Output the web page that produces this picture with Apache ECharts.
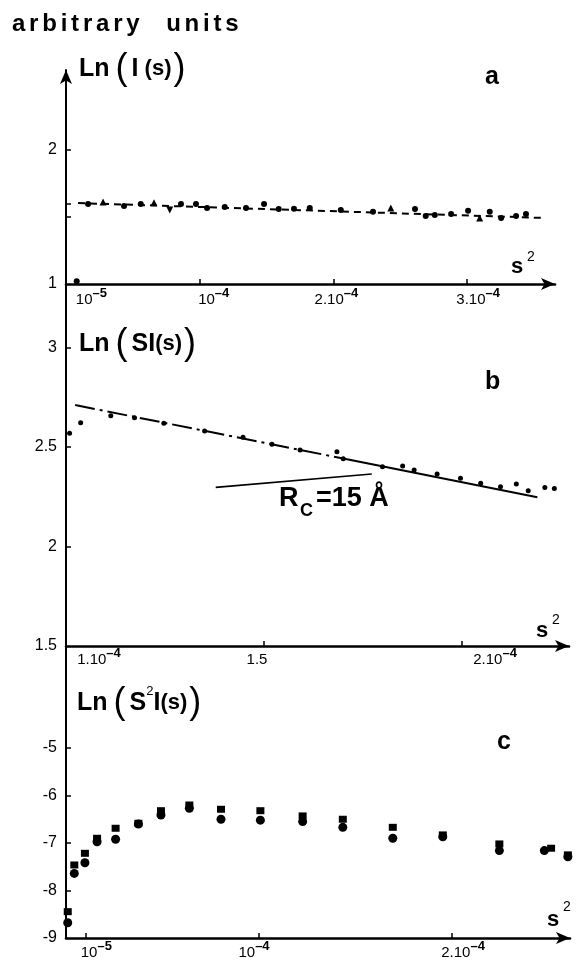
<!DOCTYPE html>
<html><head><meta charset="utf-8">
<script src="https://cdn.jsdelivr.net/npm/echarts@6/dist/echarts.min.js"></script>
<style>html,body{margin:0;padding:0;background:#fff}#c{width:582px;height:960px}</style>
</head><body><div id="c"></div>
<script>
// ---------- DATA (x values in units of 1e-4, i.e. s² × 10⁴) ----------
// panel a : Ln(I(s))
const aDotX = [0.08,0.165,0.434,0.559,0.860,0.972,1.055,1.187,1.346,1.481,1.591,1.705,1.823,2.055,2.296,2.610,2.690,2.758,2.880,3.007,3.169,3.254,3.366,3.440];
const aDotY = [1.02,1.597,1.582,1.597,1.597,1.597,1.567,1.575,1.567,1.597,1.560,1.562,1.567,1.552,1.540,1.560,1.507,1.515,1.522,1.547,1.540,1.493,1.507,1.522];
const aTriX = [0.277,0.658,2.429,3.094];
const aTriY = [1.612,1.607,1.567,1.493];
const aInvTriX = [0.776];
const aInvTriY = [1.552];
const aFitX = [0.09,3.57];
const aFitY = [1.604,1.493];
const aXTickValues = [1,2,3];
const aXLabelValues = [0.1,1,2,3];
const aXLabels = [['10','–5'],['10','–4'],['2.10','–4'],['3.10','–4']];
const aYTickValues = [1.5,1.6,2];
const aYLabelValues = [1,2];

// panel b : Ln(S I(s))
const bDotX = [1.009,1.037,1.113,1.173,1.247,1.350,1.447,1.520,1.591,1.684,1.700,1.799,1.850,1.879,1.937,1.996,2.047,2.097,2.137,2.167,2.209,2.233];
const bDotY = [2.569,2.622,2.657,2.647,2.619,2.580,2.549,2.514,2.485,2.476,2.441,2.401,2.405,2.384,2.364,2.343,2.318,2.300,2.314,2.280,2.297,2.292];
const bFitDashX = [1.023,1.70];
const bFitDashY = [2.711,2.442];
const bFitSolidX = [1.70,2.19];
const bFitSolidY = [2.442,2.247];
const bPointerX = [1.378,1.772];
const bPointerY = [2.297,2.364];
const bXTickValues = [1.5,2];
const bXLabelValues = [1,1.5,2];
const bXLabels = [['1.10','–4'],['1.5',''],['2.10','–4']];
const bYTickValues = [2,2.5,3];
const bYLabelValues = [1.5,2,2.5,3];

// panel c : Ln(S² I(s))
const cSqX = [0.009,0.043,0.098,0.161,0.257,0.375,0.492,0.639,0.803,1.007,1.226,1.434,1.693,1.952,2.245,2.513,2.60];
const cSqY = [-8.446,-7.463,-7.217,-6.901,-6.69,-6.585,-6.32,-6.2,-6.29,-6.32,-6.43,-6.5,-6.67,-6.83,-7.02,-7.11,-7.25];
const cCircX = [0.009,0.043,0.098,0.161,0.257,0.375,0.492,0.639,0.803,1.007,1.226,1.434,1.693,1.952,2.245,2.478,2.60];
const cCircY = [-8.68,-7.64,-7.415,-6.973,-6.922,-6.6,-6.41,-6.27,-6.5,-6.52,-6.55,-6.67,-6.9,-6.87,-7.16,-7.16,-7.29];
const cXTickValues = [0.1,1,2];
const cXLabelValues = [0.1,1,2];
const cXLabels = [['10','–5'],['10','–4'],['2.10','–4']];
const cYTickValues = [-8,-7,-6,-5];
const cYLabelValues = [-9,-8,-7,-6,-5];

// ---------- STYLE ----------
const FONT = 'Liberation Sans';
const INK = '#000';
const zip = (xs, ys) => xs.map((x, i) => [x, ys[i]]);

function xLabel(values, labels, shifts, margin) {
  const rich = {};
  values.forEach((v, i) => {
    const s = shifts[i];
    const hasSup = !!labels[i][1];
    rich['n' + i] = { fontSize: 15, fontFamily: FONT, color: INK, lineHeight: 20, verticalAlign: 'bottom',
      padding: [0, (s < 0 && !hasSup) ? -2 * s : 0, 0, s > 0 ? 2 * s : 0] };
    rich['e' + i] = { fontSize: 13, fontWeight: 'bold', fontFamily: FONT, color: INK, lineHeight: 13, verticalAlign: 'top',
      padding: [0, s < 0 ? -2 * s : 0, 0, 0] };
  });
  return {
    show: true, customValues: values, margin: margin, color: INK,
    formatter: function (v) {
      const i = values.findIndex(u => Math.abs(u - v) < 1e-9);
      if (i < 0) return '';
      const b = labels[i][0], e = labels[i][1];
      return e ? '{n' + i + '|' + b + '}{e' + i + '|' + e + '}' : '{n' + i + '|' + b + '}';
    },
    rich: rich
  };
}
function yLabel(values) {
  return { show: true, customValues: values, fontSize: 16, fontFamily: FONT, color: INK, margin: 9,
    formatter: v => String(v) };
}
function tick(values) {
  return { show: true, inside: true, length: 5, customValues: values, lineStyle: { color: INK, width: 1.5 } };
}
function line(width, arrow) {
  return { show: true, onZero: false, lineStyle: { color: INK, width: width },
    symbol: arrow ? ['none', 'arrow'] : 'none', symbolSize: [9, 14] };
}
const noSplit = { show: false };

const grids = [
  { left: 66, top: 70, width: 489, height: 214 },
  { left: 66, top: 284, width: 503, height: 362 },
  { left: 66, top: 646, width: 504, height: 292 }
].map(g => Object.assign({ containLabel: false, outerBoundsMode: 'none' }, g));

const xAxes = [
  { gridIndex: 0, type: 'value', min: 0, max: 3.657, axisLine: line(2.6, true), axisTick: tick(aXTickValues),
    axisLabel: xLabel(aXLabelValues, aXLabels, [12, 14, 3, 11], 3), splitLine: noSplit },
  { gridIndex: 1, type: 'value', min: 1, max: 2.270, axisLine: line(2.6, true), axisTick: tick(bXTickValues),
    axisLabel: xLabel(bXLabelValues, bXLabels, [33, -7, 33], 1), splitLine: noSplit },
  { gridIndex: 2, type: 'value', min: 0, max: 2.611, axisLine: line(2.6, true), axisTick: tick(cXTickValues),
    axisLabel: xLabel(cXLabelValues, cXLabels, [11, -5, 11], 2), splitLine: noSplit }
];
const yAxes = [
  { gridIndex: 0, type: 'value', min: 1, max: 2.597, axisLine: line(2, true), axisTick: tick(aYTickValues),
    axisLabel: yLabel(aYLabelValues), splitLine: noSplit },
  { gridIndex: 1, type: 'value', min: 1.5, max: 3.319, axisLine: line(2, false), axisTick: tick(bYTickValues),
    axisLabel: yLabel(bYLabelValues), splitLine: noSplit },
  { gridIndex: 2, type: 'value', min: -9, max: -2.853, axisLine: line(2, false), axisTick: tick(cYTickValues),
    axisLabel: yLabel(cYLabelValues), splitLine: noSplit }
];

function scatter(idx, data, symbol, size, rotate) {
  return { type: 'scatter', xAxisIndex: idx, yAxisIndex: idx, data: data, symbol: symbol, symbolSize: size,
    symbolRotate: rotate || 0, itemStyle: { color: INK, opacity: 1 }, silent: true, z: 3 };
}
function fit(idx, data, type, width) {
  return { type: 'line', xAxisIndex: idx, yAxisIndex: idx, data: data, showSymbol: false, symbol: 'none',
    lineStyle: { color: INK, width: width, type: type, opacity: 1 }, silent: true, z: 2 };
}

const series = [
  fit(0, zip(aFitX, aFitY), [7, 5], 2),
  scatter(0, zip(aDotX, aDotY), 'circle', 6),
  scatter(0, zip(aTriX, aTriY), 'triangle', 7),
  scatter(0, zip(aInvTriX, aInvTriY), 'triangle', 7, 180),

  fit(1, zip(bFitDashX, bFitDashY), [20, 5, 3, 5], 2),
  fit(1, zip(bFitSolidX, bFitSolidY), 'solid', 2),
  fit(1, zip(bPointerX, bPointerY), 'solid', 1.6),
  scatter(1, zip(bDotX, bDotY), 'circle', 5),

  scatter(2, zip(cCircX, cCircY), 'circle', 9),
  scatter(2, zip(cSqX, cSqY), 'rect', [8, 7])
];

// ---------- TEXT ----------
function T(x, y, text, size, weight, extra) {
  return { type: 'text', x: x, y: y, silent: true, z: 10,
    style: Object.assign({ text: text, fill: INK, fontFamily: FONT, fontSize: size, fontWeight: weight || 'bold',
      align: 'left', verticalAlign: 'middle' }, extra || {}) };
}
function tok(size, weight, more) {
  return Object.assign({ fontSize: size, fontWeight: weight, fontFamily: FONT, fill: INK, color: INK }, more || {});
}
const titleRich = {
  t: tok(25, 'bold', { lineHeight: 36, verticalAlign: 'middle' }),
  P: tok(36, 'normal', { lineHeight: 36, verticalAlign: 'middle', padding: [0, 4, 0, 6] }),
  Q: tok(36, 'normal', { lineHeight: 36, verticalAlign: 'middle', padding: [0, 0, 0, 2] }),
  s: tok(22, 'bold', { lineHeight: 36, verticalAlign: 'middle' }),
  u: tok(13, 'normal', { lineHeight: 22, verticalAlign: 'top' })
};
function spaced(str) {
  return str.split('').map(ch => ch === ' ' ? '{w| }' : '{l|' + ch + '}').join('');
}
const graphic = [
  { type: 'text', x: 10, y: 24, silent: true, style: { text: spaced('arbitrary units'), verticalAlign: 'middle',
      rich: { l: tok(24, 'bold', { padding: [0, 1.9, 0, 1.9] }), w: tok(24, 'bold', { padding: [0, 8, 0, 8] }) } } },
  { type: 'text', x: 79, y: 69, silent: true, style: { text: '{t|Ln}{P|(}{t|I}{s| (s)}{Q|)}', verticalAlign: 'middle', rich: titleRich } },
  { type: 'text', x: 79, y: 344, silent: true, style: { text: '{t|Ln}{P|(}{t|SI}{s|(s)}{Q|)}', verticalAlign: 'middle', rich: titleRich } },
  { type: 'text', x: 77, y: 703, silent: true, style: { text: '{t|Ln}{P|(}{t|S}{u|2}{t|I}{s|(s)}{Q|)}', verticalAlign: 'middle', rich: titleRich } },
  T(485, 77, 'a', 25),
  T(485, 382, 'b', 25),
  T(497, 742, 'c', 25),
  T(511, 267, 's', 22), T(527, 257, '2', 14, 'normal'),
  T(536, 631, 's', 22), T(552, 620, '2', 14, 'normal'),
  T(547, 920, 's', 22), T(563, 907, '2', 14, 'normal'),
  T(279, 499, 'R', 27), T(300, 511, 'C', 18), T(316, 499, '=15 Å', 27)
];

const chart = echarts.init(document.getElementById('c'), null, { renderer: 'canvas', width: 582, height: 960 });
chart.setOption({
  animation: false,
  backgroundColor: '#fff',
  grid: grids, xAxis: xAxes, yAxis: yAxes, series: series, graphic: graphic
});
</script>
</body></html>
